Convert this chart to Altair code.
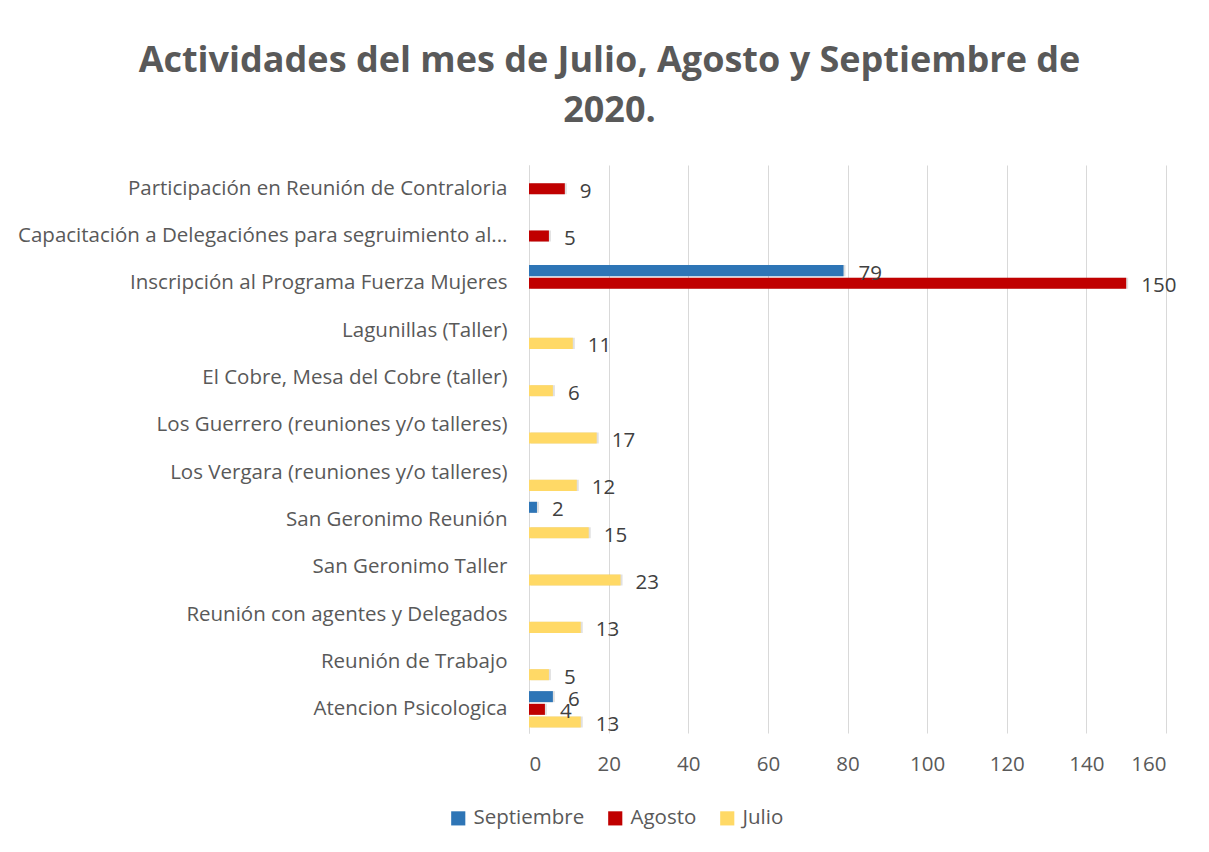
import altair as alt
import pandas as pd

categories = [
    "Participación en Reunión de Contraloria",
    "Capacitación a Delegaciónes para segruimiento al...",
    "Inscripción al Programa Fuerza Mujeres",
    "Lagunillas (Taller)",
    "El Cobre, Mesa del Cobre (taller)",
    "Los Guerrero (reuniones y/o talleres)",
    "Los  Vergara (reuniones y/o talleres)",
    "San Geronimo Reunión",
    "San Geronimo Taller",
    "Reunión con agentes y Delegados",
    "Reunión de Trabajo",
    "Atencion Psicologica",
]
series = ["Septiembre", "Agosto", "Julio"]
colors = ["#2E75B6", "#C00000", "#FFD966"]

septiembre = [None, None, 79, None, None, None, None, 2, None, None, None, 6]
agosto = [9, 5, 150, None, None, None, None, None, None, None, None, 4]
julio = [None, None, None, 11, 6, 17, 12, 15, 23, 13, 5, 13]

rows = []
for s, vals in zip(series, [septiembre, agosto, julio]):
    for c, v in zip(categories, vals):
        if v is not None:
            rows.append({"cat": c, "serie": s, "valor": v})
df = pd.DataFrame(rows)

FONT = "Open Sans"
TXT = "#595959"
ysc = alt.Scale(domain=categories, paddingInner=0, paddingOuter=0)
yoff = alt.Scale(domain=series, paddingInner=0.13, paddingOuter=0.43)

base = alt.Chart(df).encode(
    y=alt.Y("cat:N", sort=categories, scale=ysc, title=None,
            axis=alt.Axis(ticks=False, labelPadding=22, labelFontSize=20.5, labelColor=TXT,
                          labelFont=FONT, labelLimit=600, domainColor="#d9d9d9", grid=False)),
    yOffset=alt.YOffset("serie:N", scale=yoff, sort=series),
)

shadow = base.mark_bar(color="#000000", opacity=0.12, xOffset=2, yOffset=2).encode(
    x=alt.X("valor:Q"),
)

bars = base.mark_bar().encode(
    x=alt.X("valor:Q", scale=alt.Scale(domain=[0, 160], nice=False), title=None,
            axis=alt.Axis(values=list(range(0, 161, 20)), grid=True, gridColor="#d9d9d9",
                          domain=False, ticks=False, labelFontSize=20.5, labelColor=TXT,
                          labelFont=FONT, labelPadding=21)),
    color=alt.Color("serie:N", scale=alt.Scale(domain=series, range=colors),
                    legend=alt.Legend(title=None, orient="none", direction="horizontal",
                                      legendX=-81, legendY=643, symbolType="square",
                                      symbolSize=200, symbolStrokeWidth=0, labelFontSize=20.5,
                                      labelFont=FONT, labelColor=TXT, columnPadding=20,
                                      labelOffset=5, symbolOpacity=1)),
)

labels = base.mark_text(align="left", dx=15, dy=3, fontSize=20.5, font=FONT, color="#404040").encode(
    x="valor:Q",
    text="valor:Q",
)

chart = alt.layer(shadow, bars, labels).properties(
    width=637,
    height=568,
    autosize=alt.AutoSizeParams(type="none"),
    padding={"left": 521, "top": 157, "right": 35, "bottom": 100},
    title=alt.Title(
        ["Actividades del mes de Julio, Agosto y Septiembre de", "2020."],
        font=FONT, fontSize=36, fontWeight="bold", color=TXT,
        anchor="middle", dx=-238, offset=35, lineHeight=50,
    ),
).configure(background="white").configure_view(stroke="transparent", strokeWidth=0)

chart.save("out.html", embed_options={"renderer": "svg", "actions": False})
